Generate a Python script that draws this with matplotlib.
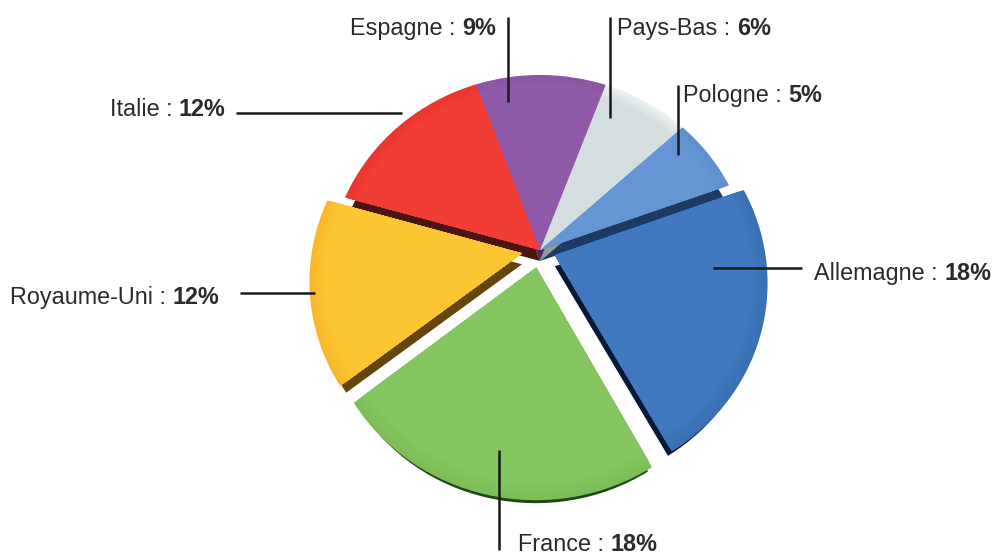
import matplotlib
matplotlib.use("Agg")
import numpy as np
from matplotlib import pyplot as plt
from matplotlib.colors import to_rgb
from matplotlib.transforms import Transform

plt.rcParams['font.family'] = ['Liberation Sans', 'DejaVu Sans']

countries = ['Pologne', 'Pays-Bas', 'Espagne', 'Italie', 'Royaume-Uni', 'France', 'Allemagne']
shares = [5, 6, 9, 12, 12, 18, 18]
explode = [0, 0, 0, 0, 0.087, 0.09, 0.075]
colors = ['#6595d3', '#d5dede', '#8f5ba8', '#f23d36', '#fbc631', '#85c660', '#4079bf']
rims = ['#5f90ce', '#eef2f2', '#8a55a5', '#ea362f', '#f8b72a', '#7cbd57', '#3a70b3']
sides = ['#1d3a62', '#8f9a9a', '#4c2c60', '#4a1512', '#644510', '#1f4a18', '#061a38']

# text baseline start (x, y) and leader line (x0, y0, x1, y1), in pixels of the picture
label_pos = [(683, 102), (617, 35), (350, 35), (110, 116), (10, 304), (518, 551), (814, 280)]
leaders = [(678, 85, 678, 155), (610, 17, 610, 118), (508, 17, 508, 102), (236, 113, 402, 113),
           (240, 293, 315, 293), (499, 450, 499, 550), (713, 268, 802, 268)]


class Perspective(Transform):
    # pie plane seen from above, the far side gets squeezed
    input_dims = 2
    output_dims = 2
    has_inverse = False

    def __init__(self, shift=0):
        super().__init__()
        self.shift = shift

    def transform_non_affine(self, values):
        values = np.asarray(values)
        w = 1 + 0.129 * values[:, 1]
        px = 540 + 210 * values[:, 0] / w
        py = 250 - 197.6 * values[:, 1] / w + self.shift
        return np.column_stack([px, py])


fig = plt.figure(figsize=(9.93, 5.56), dpi=100)
ax = fig.add_axes([0, 0, 1, 1])

# side of the slices, smaller so that the band stays thin along the outer edge
back, _ = ax.pie(shares, explode=explode, colors=sides, startangle=20, radius=0.97)
for w in back:
    w.set_transform(Perspective(11) + ax.transData)

# rim shading: same pie again and again, a bit smaller each time
steps = 8
for i in range(steps):
    f = i / (steps - 1)
    mix = [tuple((1 - f) * np.array(to_rgb(r)) + f * np.array(to_rgb(c))) for r, c in zip(rims, colors)]
    front, _ = ax.pie(shares, explode=explode, colors=mix, startangle=20, radius=1 - 0.07 * f)
    for w in front:
        w.set_transform(Perspective() + ax.transData)

ax.set_aspect('auto')
ax.set_xlim(0, 993)
ax.set_ylim(556, 0)
ax.axis('off')

renderer = fig.canvas.get_renderer()
for name, val, pos, seg in zip(countries, shares, label_pos, leaders):
    t = ax.text(pos[0], pos[1], name + ' : ', fontsize=16.8, color='#2a2a2a', va='baseline', ha='left')
    x_end = ax.transData.inverted().transform(t.get_window_extent(renderer).get_points())[1, 0]
    ax.text(x_end, pos[1], '%d%%' % val, fontsize=16.8, fontweight='bold', color='#2a2a2a',
            va='baseline', ha='left')
    ax.plot([seg[0], seg[2]], [seg[1], seg[3]], color='#1a1a1a', lw=1.8, solid_capstyle='butt')

fig.savefig('out.png', dpi=100)
